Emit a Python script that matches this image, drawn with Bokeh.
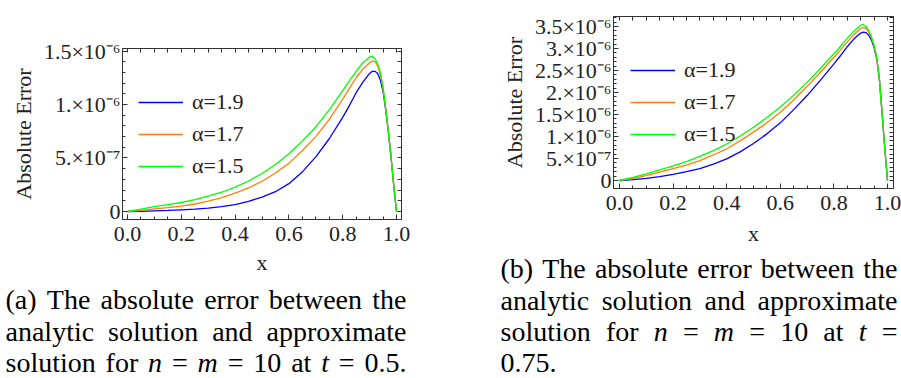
from bokeh.plotting import figure
from bokeh.models import FixedTicker, LinearAxis, Range1d, Legend, LegendItem
from bokeh.layouts import row, column
from bokeh.core.properties import value
from bokeh.embed import file_html
from bokeh.resources import INLINE

# ---------------- data (absolute error, in units of 1e-6) ----------------
x_vals = [0.0, 0.05, 0.1, 0.15, 0.2, 0.25, 0.3, 0.35, 0.4, 0.45, 0.5, 0.55, 0.6, 0.65,
          0.7, 0.75, 0.8, 0.825, 0.85, 0.875, 0.9, 0.91, 0.92, 0.93, 0.94, 0.95, 0.96,
          0.97, 0.98, 0.99, 1.0]

# (a) t = 0.5
err_a_19 = [0, 0.002, 0.006, 0.010, 0.016, 0.022, 0.031, 0.045, 0.065, 0.095, 0.134, 0.185,
            0.26, 0.37, 0.51, 0.68, 0.88, 0.99, 1.11, 1.21, 1.29, 1.31, 1.31, 1.29, 1.23,
            1.12, 0.95, 0.74, 0.50, 0.24, 0]
err_a_17 = [0, 0.010, 0.025, 0.037, 0.050, 0.070, 0.097, 0.130, 0.171, 0.220, 0.283, 0.36,
            0.45, 0.57, 0.70, 0.86, 1.05, 1.15, 1.25, 1.33, 1.39, 1.405, 1.40, 1.36, 1.28,
            1.15, 0.96, 0.74, 0.50, 0.24, 0]
err_a_15 = [0, 0.022, 0.045, 0.064, 0.084, 0.110, 0.143, 0.180, 0.227, 0.285, 0.355, 0.44,
            0.54, 0.66, 0.79, 0.95, 1.13, 1.22, 1.31, 1.39, 1.445, 1.45, 1.43, 1.38, 1.30,
            1.16, 0.96, 0.74, 0.50, 0.24, 0]

# (b) t = 0.75
err_b_19 = [0, 0.02, 0.05, 0.09, 0.14, 0.20, 0.27, 0.37, 0.49, 0.65, 0.84, 1.06, 1.31, 1.61,
            1.93, 2.28, 2.65, 2.84, 3.04, 3.22, 3.35, 3.37, 3.36, 3.30, 3.19, 3.02, 2.76,
            2.28, 1.52, 0.72, 0]
err_b_17 = [0, 0.05, 0.11, 0.19, 0.27, 0.35, 0.45, 0.58, 0.72, 0.90, 1.10, 1.31, 1.55, 1.83,
            2.14, 2.46, 2.80, 2.97, 3.15, 3.32, 3.46, 3.48, 3.45, 3.37, 3.24, 3.06, 2.78,
            2.28, 1.52, 0.72, 0]
err_b_15 = [0, 0.07, 0.15, 0.24, 0.33, 0.43, 0.55, 0.68, 0.83, 1.01, 1.21, 1.43, 1.67, 1.94,
            2.23, 2.55, 2.88, 3.05, 3.23, 3.40, 3.53, 3.54, 3.50, 3.41, 3.27, 3.08, 2.80,
            2.28, 1.52, 0.72, 0]

series_labels = ["\u03b1=1.9", "\u03b1=1.7", "\u03b1=1.5"]
series_colors = ["#0000ff", "#ff8000", "#00ff00"]

x_ticks = [0.0, 0.2, 0.4, 0.6, 0.8, 1.0]
x_tick_labels = ["0.0", "0.2", "0.4", "0.6", "0.8", "1.0"]

ya_ticks = [0.0, 0.5, 1.0, 1.5]
ya_tick_labels = ["0", "5.\u00d710\u207b\u2077", "1.\u00d710\u207b\u2076", "1.5\u00d710\u207b\u2076"]
yb_ticks = [0.0, 0.5, 1.0, 1.5, 2.0, 2.5, 3.0, 3.5]
yb_tick_labels = ["0", "5.\u00d710\u207b\u2077", "1.\u00d710\u207b\u2076", "1.5\u00d710\u207b\u2076",
                  "2.\u00d710\u207b\u2076", "2.5\u00d710\u207b\u2076", "3.\u00d710\u207b\u2076",
                  "3.5\u00d710\u207b\u2076"]

x_title = "x"
y_title = "Absolute Error"

# caption lines: list of (word, italic) pieces
caption_a = [
    [("(a)", 0), ("The", 0), ("absolute", 0), ("error", 0), ("between", 0), ("the", 0)],
    [("analytic", 0), ("solution", 0), ("and", 0), ("approximate", 0)],
    [("solution", 0), ("for", 0), ("n", 1), ("=", 0), ("m", 1), ("=", 0), ("10", 0),
     ("at", 0), ("t", 1), ("=", 0), ("0.5.", 0)],
]
caption_b = [
    [("(b)", 0), ("The", 0), ("absolute", 0), ("error", 0), ("between", 0), ("the", 0)],
    [("analytic", 0), ("solution", 0), ("and", 0), ("approximate", 0)],
    [("solution", 0), ("for", 0), ("n", 1), ("=", 0), ("m", 1), ("=", 0), ("10", 0),
     ("at", 0), ("t", 1), ("=", 0)],
    [("0.75.", 0)],
]

FONT = "Liberation Serif"
FRAME = "#333333"
TXT = "#222222"
CAP_SIZE = 28

# Times / Liberation Serif advance widths (1/1000 em), used to justify the caption lines
W_REG = {" ": 250, "(": 333, ")": 333, ".": 250, "=": 564, "T": 611, "a": 444, "b": 500,
         "c": 444, "d": 500, "e": 444, "f": 333, "h": 500, "i": 278, "l": 278, "m": 778,
         "n": 500, "o": 500, "p": 500, "r": 333, "s": 389, "t": 278, "u": 500, "w": 722,
         "x": 500, "y": 500}
W_ITA = {"n": 500, "m": 722, "t": 278}


def word_width(w, italic):
    tbl = W_ITA if italic else W_REG
    return sum(tbl.get(c, 500) for c in w) * CAP_SIZE / 1000.0


def make_panel(width, height, fl, ft, fw, fh, xr, yr, yticks, ylabels, ymax_minor, series,
               legend_x, xl_standoff, xl_lab_standoff):
    p = figure(width=width, height=height, output_backend="svg", toolbar_location=None,
               x_range=Range1d(*xr), y_range=Range1d(*yr),
               min_border_left=fl, min_border_top=ft,
               min_border_right=width - fl - fw, min_border_bottom=height - ft - fh,
               x_axis_type=None, y_axis_type=None)
    p.frame_width = fw
    p.frame_height = fh
    p.grid.visible = False
    p.outline_line_color = FRAME
    p.background_fill_color = "white"
    p.border_fill_color = "white"

    x_minor = [i * 0.05 for i in range(21)]
    y_minor = [i * 0.1 for i in range(int(round(ymax_minor * 10)) + 1)]
    xt = FixedTicker(ticks=x_ticks, minor_ticks=x_minor)
    yt = FixedTicker(ticks=yticks, minor_ticks=y_minor)
    # frame ticks without labels on the top and right edges
    xt2 = FixedTicker(ticks=[], minor_ticks=x_minor)
    yt2 = FixedTicker(ticks=[], minor_ticks=y_minor)

    def style(ax):
        ax.axis_line_color = FRAME
        ax.major_tick_line_color = FRAME
        ax.minor_tick_line_color = FRAME
        ax.major_tick_in = 5
        ax.major_tick_out = 0
        ax.minor_tick_in = 3
        ax.minor_tick_out = 0
        ax.major_label_text_font = FONT
        ax.major_label_text_font_size = "22px"
        ax.major_label_text_color = TXT
        ax.axis_label_text_font = FONT
        ax.axis_label_text_font_size = "22px"
        ax.axis_label_text_font_style = "normal"
        ax.axis_label_text_color = TXT

    xb = LinearAxis(ticker=xt, axis_label=x_title,
                    major_label_overrides={t: l for t, l in zip(x_ticks, x_tick_labels)})
    style(xb)
    xb.major_label_standoff = xl_standoff
    xb.axis_label_standoff = xl_lab_standoff
    p.add_layout(xb, "below")

    yl = LinearAxis(ticker=yt, axis_label=y_title,
                    major_label_overrides={t: l for t, l in zip(yticks, ylabels)})
    style(yl)
    yl.major_label_standoff = 2
    yl.axis_label_standoff = 5
    p.add_layout(yl, "left")

    xa = LinearAxis(ticker=xt2)
    style(xa)
    xa.minor_tick_in = 4
    p.add_layout(xa, "above")
    yr_ax = LinearAxis(ticker=yt2)
    style(yr_ax)
    yr_ax.minor_tick_in = 4
    p.add_layout(yr_ax, "right")

    items = []
    for ys, lab, col in zip(series, series_labels, series_colors):
        r = p.line(x_vals, ys, line_color=col, line_width=1.3)
        items.append(LegendItem(label=lab, renderers=[r]))

    item_h, gap = 26, 6
    leg_h = 3 * item_h + 2 * gap
    top_off = 54 - item_h // 2
    leg = Legend(items=items, location=(legend_x, fh - top_off - leg_h),
                 glyph_width=45, glyph_height=item_h, label_height=item_h, spacing=gap,
                 padding=0, margin=0, label_standoff=9,
                 label_text_font=FONT, label_text_font_size="22px", label_text_color=TXT,
                 background_fill_alpha=0, border_line_color=None)
    p.add_layout(leg)
    try:
        if "frame_align" in p.properties():
            p.frame_align = False
    except Exception:
        pass
    return p


def make_caption(width, height, lines, x0, x1, ys, justify_last):
    c = figure(width=width, height=height, output_backend="svg", toolbar_location=None,
               x_range=Range1d(0, width), y_range=Range1d(height, 0),
               min_border=0, min_border_left=0, min_border_right=0, min_border_top=0,
               min_border_bottom=0, x_axis_type=None, y_axis_type=None)
    c.frame_width = width
    c.frame_height = height
    c.grid.visible = False
    c.outline_line_color = None
    c.background_fill_color = "white"
    c.border_fill_color = "white"
    reg = {"x": [], "y": [], "t": []}
    ita = {"x": [], "y": [], "t": []}
    for li, (line, yb) in enumerate(zip(lines, ys)):
        widths = [word_width(w, it) for w, it in line]
        last = li == len(lines) - 1
        if len(line) > 1 and (not last or justify_last):
            gap = (x1 - x0 - sum(widths)) / (len(line) - 1)
        else:
            gap = CAP_SIZE * 0.25
        x = x0
        for (w, it), wd in zip(line, widths):
            d = ita if it else reg
            d["x"].append(x)
            d["y"].append(yb)
            d["t"].append(w)
            x += wd + gap
    c.text(x=reg["x"], y=reg["y"], text=reg["t"], text_font=value(FONT),
           text_font_size=value("%dpx" % CAP_SIZE), text_color="black",
           text_align="left", text_baseline="middle")
    c.text(x=ita["x"], y=ita["y"], text=ita["t"], text_font=value(FONT),
           text_font_size=value("%dpx" % CAP_SIZE), text_font_style="italic",
           text_color="black", text_align="left", text_baseline="middle")
    try:
        if "frame_align" in c.properties():
            c.frame_align = False
    except Exception:
        pass
    return c


pa = make_panel(490, 280, 122, 48, 279, 171, (-0.0186, 1.0186), (-0.0748, 1.5234),
                ya_ticks, ya_tick_labels, 1.5, [err_a_19, err_a_17, err_a_15],
                16, 7, 6)
pb = make_panel(411, 252, 123, 16, 280, 172, (-0.0224, 1.0224), (-0.182, 3.727),
                yb_ticks, yb_tick_labels, 3.7, [err_b_19, err_b_17, err_b_15],
                17, 7, 8)

cap_a = make_caption(490, 98, caption_a, 5, 406, [19, 51, 82], True)
cap_b = make_caption(411, 126, caption_b, 10, 407, [16, 47.5, 79, 110], False)

layout = row(column(pa, cap_a, spacing=0), column(pb, cap_b, spacing=0), spacing=0)
open("out.html", "w").write(file_html(layout, INLINE))
